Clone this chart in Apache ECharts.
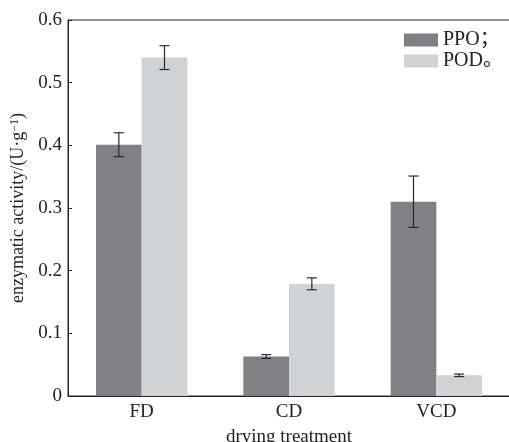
<!DOCTYPE html>
<html><head><meta charset="utf-8">
<script src="https://cdn.jsdelivr.net/npm/echarts@6/dist/echarts.min.js"></script>
<style>html,body{margin:0;padding:0;background:#fff}#c{width:509px;height:442px}</style>
</head><body><div id="c"></div>
<script>
const categories = ['FD', 'CD', 'VCD'];
const ppo = [0.401, 0.063, 0.310];
const ppoErr = [0.019, 0.003, 0.041];
const pod = [0.540, 0.179, 0.033];
const podErr = [0.019, 0.0095, 0.002];
const yTicks = { min: 0, max: 0.6, interval: 0.1 };

const FONT = '"Liberation Serif","Times New Roman","Noto Sans CJK SC",serif';
const BAR_FRAC = 0.31;

function errSeries(vals, errs, dir) {
  return {
    type: 'custom',
    silent: true,
    z: 10,
    data: vals.map((v, i) => [i, v, errs[i]]),
    renderItem: function (params, api) {
      const i = api.value(0), v = api.value(1), e = api.value(2);
      const band = api.size([1, 0])[0];
      const off = dir * band * BAR_FRAC / 2;
      const top = api.coord([i, v + e]);
      const bot = api.coord([i, v - e]);
      const x = top[0] + off;
      const cap = 5;
      const st = { stroke: '#2a2a2a', lineWidth: 1.2 };
      return {
        type: 'group',
        children: [
          { type: 'line', shape: { x1: x, y1: top[1], x2: x, y2: bot[1] }, style: st },
          { type: 'line', shape: { x1: x - cap, y1: top[1], x2: x + cap, y2: top[1] }, style: st },
          { type: 'line', shape: { x1: x - cap, y1: bot[1], x2: x + cap, y2: bot[1] }, style: st }
        ]
      };
    }
  };
}

const chart = echarts.init(document.getElementById('c'));
chart.setOption({
  animation: false,
  backgroundColor: '#fff',
  grid: { left: 68, top: 20, width: 442, height: 376, show: true, borderColor: '#222', borderWidth: 1,
          containLabel: false, outerBoundsMode: 'none' },
  legend: {
    orient: 'vertical', left: 399, top: 25,
    icon: 'rect',
    itemWidth: 34, itemHeight: 13, itemGap: 1,
    textStyle: { fontFamily: FONT, fontSize: 20, color: '#222', lineHeight: 19 },
    data: [{ name: 'PPO；' }, { name: 'POD。' }]
  },
  xAxis: {
    type: 'category', data: categories, boundaryGap: true,
    axisLine: { lineStyle: { color: '#222', width: 1 } },
    axisTick: { inside: true, alignWithLabel: true, length: 4, lineStyle: { color: '#222' } },
    axisLabel: { fontFamily: FONT, fontSize: 19, color: '#222', margin: 7 },
    name: 'drying treatment', nameLocation: 'middle', nameGap: 32,
    nameTextStyle: { fontFamily: FONT, fontSize: 19, color: '#222' }
  },
  yAxis: {
    type: 'value', min: yTicks.min, max: yTicks.max, interval: yTicks.interval,
    splitLine: { show: false },
    axisLine: { show: true, lineStyle: { color: '#222', width: 1 } },
    axisTick: { show: true, inside: true, length: 4, lineStyle: { color: '#222' } },
    axisLabel: { fontFamily: FONT, fontSize: 19, color: '#222', margin: 6 },
    name: '{t|enzymatic activity/(U·g}{s|−1}{t|)}',
    nameLocation: 'middle', nameGap: 28, nameRotate: 90,
    nameTextStyle: {
      rich: {
        t: { fontFamily: FONT, fontSize: 18, color: '#222' },
        s: { fontFamily: FONT, fontSize: 12, color: '#222', padding: [0, 0, 8, 0] }
      }
    }
  },
  series: [
    { name: 'PPO；', type: 'bar', data: ppo, barWidth: (BAR_FRAC * 100) + '%', barGap: '0%',
      itemStyle: { color: '#818185' } },
    { name: 'POD。', type: 'bar', data: pod, barWidth: (BAR_FRAC * 100) + '%', barGap: '0%',
      itemStyle: { color: '#d1d2d4' } },
    errSeries(ppo, ppoErr, -1),
    errSeries(pod, podErr, 1)
  ]
});
</script></body></html>
